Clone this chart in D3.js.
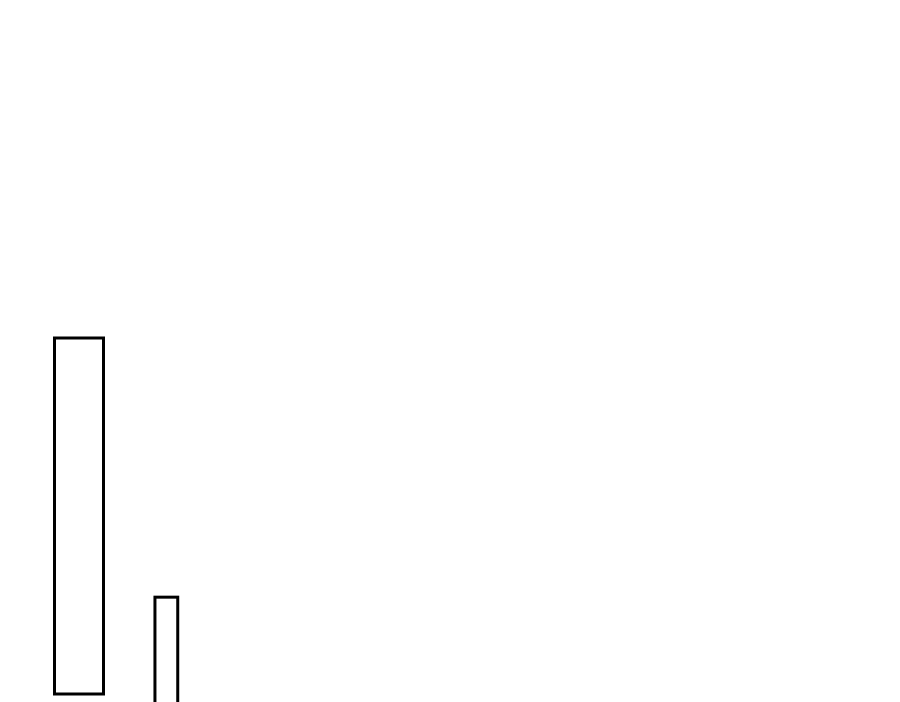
<!DOCTYPE html>
<html>
<head>
<meta charset="utf-8">
<script src="https://cdn.jsdelivr.net/npm/d3@7"></script>
<style>
  html, body { margin: 0; padding: 0; background: #fff; overflow: hidden; }
</style>
</head>
<body>
<div id="chart"></div>
<script>
// bar extents
const barStart = [0, 4.1];
const barEnd = [2, 5.03];
const barLow = [0, -8];
const barHigh = [100, 27.2];

const w = 900;
const h = 702;

const xScale = d3.scaleLinear()
  .domain([0, 2])
  .range([54.5, 103.5]);

const yScale = d3.scaleLinear()
  .domain([0, 100])
  .range([694, 338]);

const data = barStart.map((s, i) => ({ s, e: barEnd[i], lo: barLow[i], hi: barHigh[i] }));

const svg = d3.select('#chart')
  .append('svg')
  .attr('width', w)
  .attr('height', h);

svg.selectAll('rect.bar')
  .data(data)
  .enter()
  .append('rect')
  .attr('class', 'bar')
  .attr('x', d => xScale(d.s))
  .attr('y', d => yScale(d.hi))
  .attr('width', d => xScale(d.e) - xScale(d.s))
  .attr('height', d => yScale(d.lo) - yScale(d.hi))
  .style('fill', '#fff')
  .style('stroke', '#000')
  .style('stroke-width', 3);
</script>
</body>
</html>
